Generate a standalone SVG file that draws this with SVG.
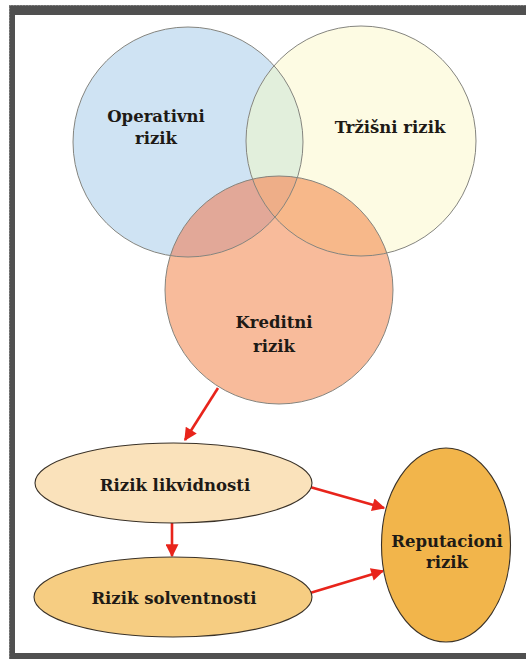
<svg xmlns="http://www.w3.org/2000/svg" width="526" height="659" viewBox="0 0 526 659">
<style>
.lbl{font-family:"DejaVu Serif","Liberation Serif",serif;font-weight:bold;font-size:16.5px;fill:#1e1a16;text-anchor:middle}
.ring{stroke:#85857f;stroke-width:1;fill:none}
.node{stroke:#3a3228;stroke-width:1.1}
.edge{stroke:#e8241b;stroke-width:2.6;fill:none;marker-end:url(#ah)}
</style>
<defs>
<marker id="ah" viewBox="0 0 10 10" refX="9" refY="5" markerWidth="6" markerHeight="5" markerUnits="strokeWidth" orient="auto">
<path d="M0,0 L10,5 L0,10 z" fill="#e8241b"/>
</marker>
<clipPath id="cB"><circle cx="188" cy="142" r="115"/></clipPath>
<clipPath id="cY"><circle cx="361" cy="141" r="115"/></clipPath>
<clipPath id="cO"><circle cx="279" cy="290" r="114"/></clipPath>
</defs>
<rect x="0" y="0" width="526" height="659" fill="#ffffff"/>
<rect x="9" y="5" width="530" height="660" fill="#505050"/>
<rect x="9.5" y="5.5" width="530" height="660" fill="none" stroke="#8a8a8a" stroke-width="1" stroke-dasharray="2 1"/>
<rect x="15" y="15" width="520" height="638" fill="#ffffff"/>
<g id="operativni"><circle cx="188" cy="142" r="115" fill="#cfe3f3"/></g>
<g id="trzisni"><circle cx="361" cy="141" r="115" fill="#fdfbe3"/></g>
<g id="kreditni"><circle cx="279" cy="290" r="114" fill="#f8bb9b"/></g>
<g id="overlaps">
<g clip-path="url(#cB)"><circle cx="361" cy="141" r="115" fill="#e2efdc"/></g>
<g clip-path="url(#cB)"><circle cx="279" cy="290" r="114" fill="#e2a898"/></g>
<g clip-path="url(#cY)"><circle cx="279" cy="290" r="114" fill="#f7b88a"/></g>
<g clip-path="url(#cB)"><g clip-path="url(#cY)"><circle cx="279" cy="290" r="114" fill="#eeae88"/></g></g>
<circle class="ring" cx="188" cy="142" r="115"/>
<circle class="ring" cx="361" cy="141" r="115"/>
<circle class="ring" cx="279" cy="290" r="114"/>
</g>
<text class="lbl" x="156" y="122">Operativni</text>
<text class="lbl" x="156" y="144">rizik</text>
<text class="lbl" x="390" y="133">Tržišni rizik</text>
<text class="lbl" x="274" y="328">Kreditni</text>
<text class="lbl" x="274" y="352">rizik</text>
<g id="connectors">
<line class="edge" x1="218" y1="388" x2="185" y2="440"/>
<line class="edge" x1="172" y1="523" x2="172" y2="556"/>
<line class="edge" x1="310" y1="487" x2="384" y2="508"/>
<line class="edge" x1="310" y1="593" x2="383" y2="571"/>
</g>
<g id="likvidnosti"><ellipse class="node" cx="173.5" cy="483" rx="138.5" ry="40" fill="#fae2bb"/><text class="lbl" x="175" y="491">Rizik likvidnosti</text></g>
<g id="solventnosti"><ellipse class="node" cx="173" cy="597" rx="139" ry="40" fill="#f6cd82"/><text class="lbl" x="174" y="604">Rizik solventnosti</text></g>
<g id="reputacioni"><ellipse class="node" cx="446" cy="545" rx="64.5" ry="97" fill="#f2b54b"/><text class="lbl" x="447" y="547">Reputacioni</text><text class="lbl" x="447" y="568">rizik</text></g>
</svg>
